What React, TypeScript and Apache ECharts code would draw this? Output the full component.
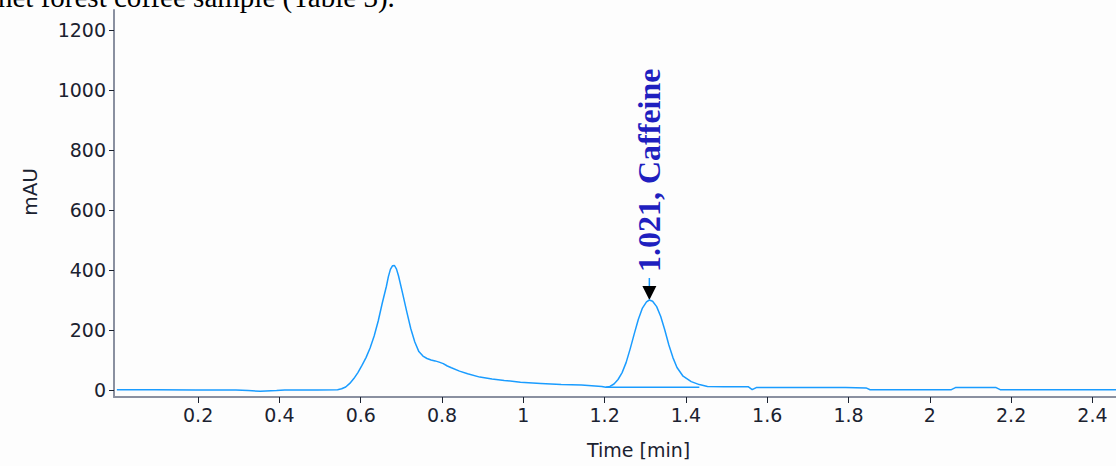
import React, { useEffect, useRef } from "react";
import * as echarts from "echarts";

// Retention time (min) and absorbance (mAU) of the chromatogram trace
const times = [
  0.0, 0.093, 0.193, 0.293, 0.323, 0.353, 0.393, 0.413, 0.493, 0.543, 0.553, 0.563,
  0.573, 0.583, 0.593, 0.603, 0.613, 0.623, 0.633, 0.643, 0.653, 0.663, 0.668,
  0.673, 0.678, 0.683, 0.688, 0.693, 0.703, 0.713, 0.723, 0.733, 0.743, 0.753,
  0.763, 0.773, 0.783, 0.793, 0.803, 0.813, 0.823, 0.843, 0.863, 0.893, 0.923,
  0.953, 0.993, 1.043, 1.093, 1.143, 1.193, 1.203, 1.213, 1.223, 1.233, 1.243,
  1.253, 1.263, 1.273, 1.283, 1.293, 1.303, 1.31, 1.318, 1.328, 1.338, 1.348,
  1.358, 1.368, 1.378, 1.393, 1.413, 1.433, 1.453, 1.493, 1.553, 1.563, 1.573,
  1.693, 1.793, 1.843, 1.853, 1.993, 2.053, 2.063, 2.163, 2.173, 2.46,
];
const absorbance = [
  1, 1, 0, 0, -2, -4, -2, 0, 0, 1, 4, 10,
  22, 38, 58, 82, 108, 140, 180, 230, 290, 345, 378,
  402, 414, 415, 403, 380, 322, 262, 205, 160, 128, 113,
  105, 100, 97, 93, 88, 80, 74, 63, 54, 43, 37,
  32, 26, 22, 18, 17, 12, 9, 12, 20, 35, 58,
  92, 138, 188, 236, 273, 294, 300, 296, 278, 245, 200,
  150, 108, 75, 46, 28, 18, 12, 11, 11, 1, 8,
  8, 8, 7, 1, 1, 1, 8, 8, 1, 1,
];

// Integration baseline drawn under the caffeine peak
const baselineTimes = [1.203, 1.433];
const baselineValues = [9, 9];

// Peak annotation
const peakTime = 1.31;
const peakHeight = 300;
const peakLabel = "1.021, Caffeine";

// Axis ticks
const xTicks = [0.2, 0.4, 0.6, 0.8, 1, 1.2, 1.4, 1.6, 1.8, 2, 2.2, 2.4];
const yTicks = [0, 200, 400, 600, 800, 1000, 1200];

const caption = "net forest coffee sample (Table 3).";
const xTitle = "Time [min]";
const yTitle = "mAU";

const LINE = "#1a9cff";
const AXIS = "#8a90a0";
const LABEL = "#1b2230";
const FONT = "'DejaVu Sans', sans-serif";

export default function App() {
  const ref = useRef<HTMLDivElement>(null);
  useEffect(() => {
    if (!ref.current) return;
    const chart = echarts.init(ref.current, undefined, { renderer: "svg" });
    const trace = times.map((t, i) => [t, absorbance[i]]);
    const base = baselineTimes.map((t, i) => [t, baselineValues[i]]);
    chart.setOption({
      animation: false,
      backgroundColor: "#fdfdfd",
      grid: { left: 114, top: 10, right: 0, bottom: 69 },
      xAxis: {
        type: "value",
        min: -0.007,
        max: 2.458,
        axisLine: { show: true, onZero: false, lineStyle: { color: AXIS, width: 2 } },
        axisTick: { show: true, length: 6, lineStyle: { color: LABEL, width: 1 }, customValues: xTicks },
        axisLabel: {
          customValues: xTicks,
          color: LABEL,
          fontFamily: FONT,
          fontSize: 19,
          margin: 8,
          formatter: (v: number) => String(v),
        },
        splitLine: { show: false },
      },
      yAxis: {
        type: "value",
        min: -23.33,
        max: 1266.67,
        axisLine: { show: true, onZero: false, lineStyle: { color: AXIS, width: 2 } },
        axisTick: { show: true, length: 5, lineStyle: { color: LABEL, width: 1 }, customValues: yTicks },
        axisLabel: {
          customValues: yTicks,
          color: LABEL,
          fontFamily: FONT,
          fontSize: 19,
          margin: 8,
          formatter: (v: number) => String(v),
        },
        splitLine: { show: false },
      },
      series: [
        {
          type: "line",
          data: trace,
          showSymbol: false,
          symbol: "none",
          lineStyle: { color: LINE, width: 1.5 },
          silent: true,
        },
        {
          type: "line",
          data: base,
          showSymbol: false,
          symbol: "none",
          lineStyle: { color: LINE, width: 1.5 },
          silent: true,
        },
      ],
    });
    const p = chart.convertToPixel({ gridIndex: 0 }, [peakTime, peakHeight]) as number[];
    const px = p[0];
    const py = p[1];
    chart.setOption({
      graphic: [
        {
          type: "text",
          left: -2,
          top: -18,
          style: { text: caption, font: "29px 'Liberation Serif', serif", fill: "#000" },
        },
        {
          type: "text",
          left: 20,
          top: 168,
          rotation: Math.PI / 2,
          style: { text: yTitle, font: `20px ${FONT}`, fill: LABEL },
        },
        {
          type: "text",
          left: 587,
          top: 440,
          style: { text: xTitle, font: `19px ${FONT}`, fill: LABEL },
        },
        {
          type: "line",
          shape: { x1: px, y1: py - 22, x2: px, y2: py - 12 },
          style: { stroke: LINE, lineWidth: 1.5 },
        },
        {
          type: "polygon",
          shape: { points: [[px - 7, py - 14], [px + 7, py - 14], [px, py]] },
          style: { fill: "#000" },
        },
        {
          type: "text",
          x: px,
          y: py - 28,
          rotation: Math.PI / 2,
          style: {
            text: peakLabel,
            font: "bold 32px 'Liberation Serif', serif",
            fill: "#1f1fbf",
            align: "left",
            verticalAlign: "middle",
          },
        },
      ],
    });
    return () => chart.dispose();
  }, []);
  return (
    <div
      ref={ref}
      style={{ position: "absolute", left: 0, top: 0, width: 1116, height: 466 }}
    />
  );
}
